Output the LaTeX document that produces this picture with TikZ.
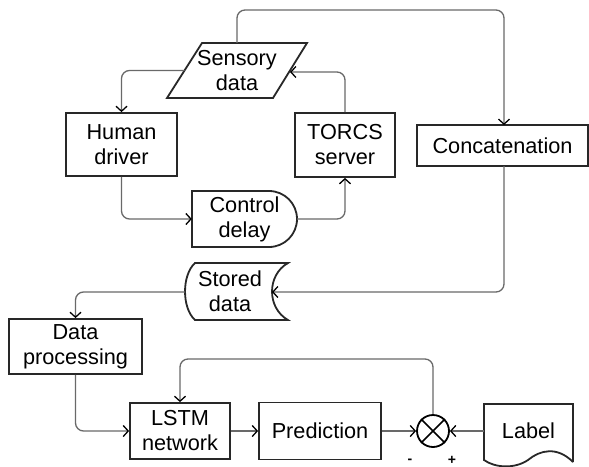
\documentclass[tikz,border=0pt]{standalone}
\usepackage{fontspec}
\setmainfont{Liberation Sans}
\usetikzlibrary{arrows.meta}
\definecolor{lnc}{RGB}{105,105,105}
\definecolor{bdc}{RGB}{40,40,40}
\tikzset{
  txt/.style={align=center, font=\fontsize{21.7}{25}\selectfont, inner sep=0pt, text=black},
  boxn/.style={txt, draw=bdc, line width=1.8pt, fill=white},
  shp/.style={draw=bdc, line width=1.8pt, fill=white},
  conn/.style={draw=lnc, line width=1.3pt, rounded corners=8pt, -{Straight Barb[length=5pt,width=11pt,color=black]}},
  sml/.style={font=\fontsize{14}{16}\selectfont\bfseries, inner sep=0pt}
}
\begin{document}
\begin{tikzpicture}[x=1pt,y=-1pt]
\useasboundingbox (0,0) rectangle (589,466);
% shapes
\draw[shp] (202,43) -- (307,43) -- (273,98) -- (167,98) -- cycle;
\node[txt, minimum width=105, minimum height=55] (sd) at (237,70.5) {Sensory\\data};
\coordinate (sdL) at (184.5,70.5);
\coordinate (sdR) at (290,72);

\node[boxn, minimum width=111, minimum height=63] (hd) at (121.5,144.5) {Human\\driver};
\node[boxn, minimum width=100, minimum height=64] (ts) at (345,145) {TORCS\\server};
\node[boxn, minimum width=171, minimum height=41] (cc) at (502.5,145.5) {Concatenation};

\draw[shp] (192,191) -- (269,191) .. controls (284.5,191) and (297,203.5) .. (297,219)
  .. controls (297,234.5) and (284.5,247) .. (269,247) -- (192,247) -- cycle;
\node[txt, minimum width=105, minimum height=56] (cd) at (244.5,219) {Control\\delay};

\draw[shp] (195,263) -- (288,263) .. controls (266.7,275) and (266.7,308) .. (288,320)
  -- (195,320) .. controls (181.7,308) and (181.7,275) .. cycle;
\node[txt, minimum width=80, minimum height=57] (st) at (230,291.5) {Stored\\data};
\coordinate (stL) at (185,292);
\coordinate (stR) at (272,292);

\node[boxn, minimum width=133, minimum height=55] (dp) at (75.5,346.5) {Data\\processing};
\node[boxn, minimum width=100, minimum height=56] (lstm) at (180,431) {LSTM\\network};
\node[boxn, minimum width=122, minimum height=57] (pred) at (320,431) {Prediction};

\node[circle, draw=black, line width=1.8pt, minimum size=32, inner sep=0pt] (sum) at (433,431) {};
\draw[black, line width=1.5pt] (sum.north west) -- (sum.south east) (sum.north east) -- (sum.south west);

\draw[shp] (573,462) -- (573,404) -- (484,404) -- (484,460)
  .. controls (495,468) and (515,469) .. (528,460)
  .. controls (540,450) and (557,446) .. (573,462);
\node[txt, minimum width=89, minimum height=50] (lb) at (528.5,431) {Label};
\coordinate (lbW) at (484,431);

\node[sml] (ms) at (410,461) {-};
\node[sml] (pl) at (452,460) {+};

% connectors
\coordinate (tp) at (504,10);
\draw[conn] (sd.north) |- (tp) -- (504,125);
\draw[conn] (sdL) -| (hd.north);
\draw[conn] (ts.north) |- (sdR);
\draw[conn] (hd.south) |- (cd.west);
\draw[conn] (cd.east) -| (ts.south);
\coordinate (ccb) at (504,166);
\draw[conn] (ccb) |- (stR);
\draw[conn] (stL) -| (dp.north);
\draw[conn] (dp.south) |- (lstm.west);
\draw[conn] (lstm.east) -- (pred.west);
\draw[conn] (pred.east) -- (sum.west);
\draw[conn] (lbW) -- (sum.east);
\coordinate (fb) at (433,359);
\draw[conn] (sum.north) -- (fb) -| (lstm.north);
\end{tikzpicture}
\end{document}
